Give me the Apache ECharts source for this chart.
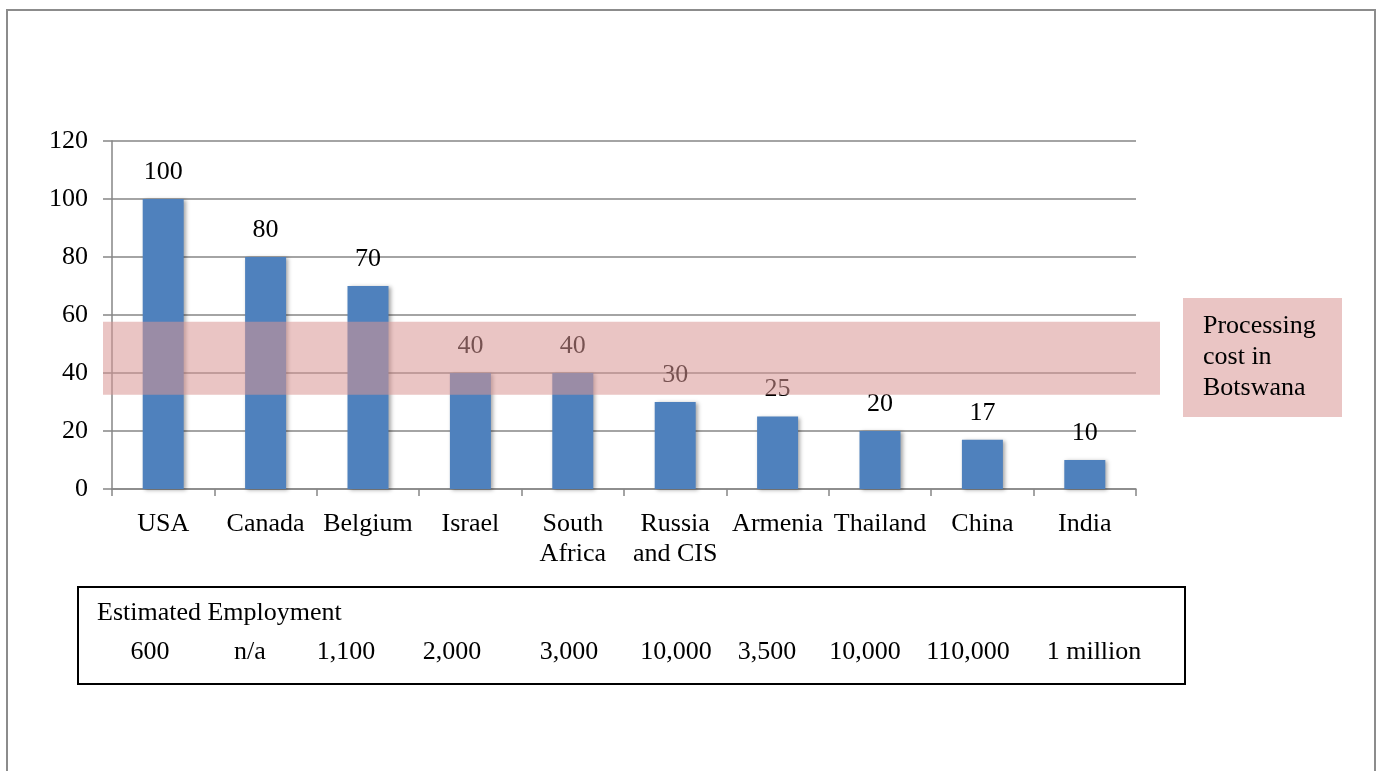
<!DOCTYPE html>
<html>
<head>
<meta charset="utf-8">
<title>Processing cost</title>
<script src="https://cdn.jsdelivr.net/npm/echarts@6/dist/echarts.min.js"></script>
<style>
  html, body { margin: 0; padding: 0; background: #fff; }
  #main { width: 1379px; height: 771px; }
</style>
</head>
<body>
<div id="main"></div>
<script>
var countries = ["USA", "Canada", "Belgium", "Israel", "South\nAfrica", "Russia\nand CIS", "Armenia", "Thailand", "China", "India"];
var costs = [100, 80, 70, 40, 40, 30, 25, 20, 17, 10];
var employment = ["600", "n/a", "1,100", "2,000", "3,000", "10,000", "3,500", "10,000", "110,000", "1 million"];
var botswanaRange = [32.5, 57.7];
var yTicks = { min: 0, max: 120, interval: 20 };

// where the employment figures sit in the text box (the original was typed with spaces)
var empX = [150, 250, 346, 452, 569, 676, 767, 865, 968, 1094];

var FONT = "'Liberation Serif', 'Times New Roman', serif";
var GRAY = "#868686";
var PINK = "rgba(217,150,148,0.55)";

var chart = echarts.init(document.getElementById("main"));

chart.setOption({
  animation: false,
  grid: { left: 112, right: 243, top: 141, bottom: 282 },
  xAxis: {
    type: "category",
    data: countries,
    axisLine: { lineStyle: { color: GRAY, width: 1.5 } },
    axisTick: { show: true, length: 7, lineStyle: { color: GRAY, width: 1.5 } },
    axisLabel: {
      interval: 0,
      margin: 20,
      color: "#000",
      fontFamily: FONT,
      fontSize: 26,
      lineHeight: 30
    }
  },
  yAxis: {
    type: "value",
    min: yTicks.min,
    max: yTicks.max,
    interval: yTicks.interval,
    axisLine: { show: true, lineStyle: { color: GRAY, width: 1.5 } },
    axisTick: { show: true, length: 9, lineStyle: { color: GRAY, width: 1.5 } },
    splitLine: { lineStyle: { color: GRAY, width: 1.5 } },
    axisLabel: {
      margin: 24,
      color: "#000",
      fontFamily: FONT,
      fontSize: 26
    }
  },
  series: [
    {
      type: "bar",
      data: costs,
      barWidth: 41,
      itemStyle: {
        color: "#4F81BD",
        shadowColor: "rgba(0,0,0,0.35)",
        shadowBlur: 4,
        shadowOffsetX: 2,
        shadowOffsetY: 1
      },
      label: {
        show: true,
        position: "top",
        distance: 14,
        color: "#000",
        fontFamily: FONT,
        fontSize: 26
      }
    }
  ]
});

var bandTop = chart.convertToPixel({ yAxisIndex: 0 }, botswanaRange[1]);
var bandBottom = chart.convertToPixel({ yAxisIndex: 0 }, botswanaRange[0]);

var graphics = [
  {
    type: "rect",
    z: 0,
    shape: { x: 7, y: 10, width: 1368, height: 800 },
    style: { fill: "none", stroke: "#8c8c8c", lineWidth: 2 }
  },
  {
    type: "rect",
    z: 100,
    shape: { x: 103, y: bandTop, width: 1057, height: bandBottom - bandTop },
    style: { fill: PINK }
  },
  {
    type: "rect",
    z: 100,
    shape: { x: 1183, y: 298, width: 159, height: 119 },
    style: { fill: PINK }
  },
  {
    type: "text",
    z: 101,
    x: 1203,
    y: 311,
    style: {
      text: "Processing\ncost in\nBotswana",
      font: "26px " + FONT,
      lineHeight: 31,
      fill: "#000"
    }
  },
  {
    type: "rect",
    z: 100,
    shape: { x: 78, y: 587, width: 1107, height: 97 },
    style: { fill: "#fff", stroke: "#000", lineWidth: 2 }
  },
  {
    type: "text",
    z: 101,
    x: 97,
    y: 613,
    style: {
      text: "Estimated Employment",
      font: "26px " + FONT,
      fill: "#000",
      verticalAlign: "middle"
    }
  }
];

employment.forEach(function (v, i) {
  graphics.push({
    type: "text",
    z: 101,
    x: empX[i],
    y: 652,
    style: {
      text: v,
      font: "26px " + FONT,
      fill: "#000",
      align: "center",
      verticalAlign: "middle"
    }
  });
});

chart.setOption({ graphic: graphics });
</script>
</body>
</html>
